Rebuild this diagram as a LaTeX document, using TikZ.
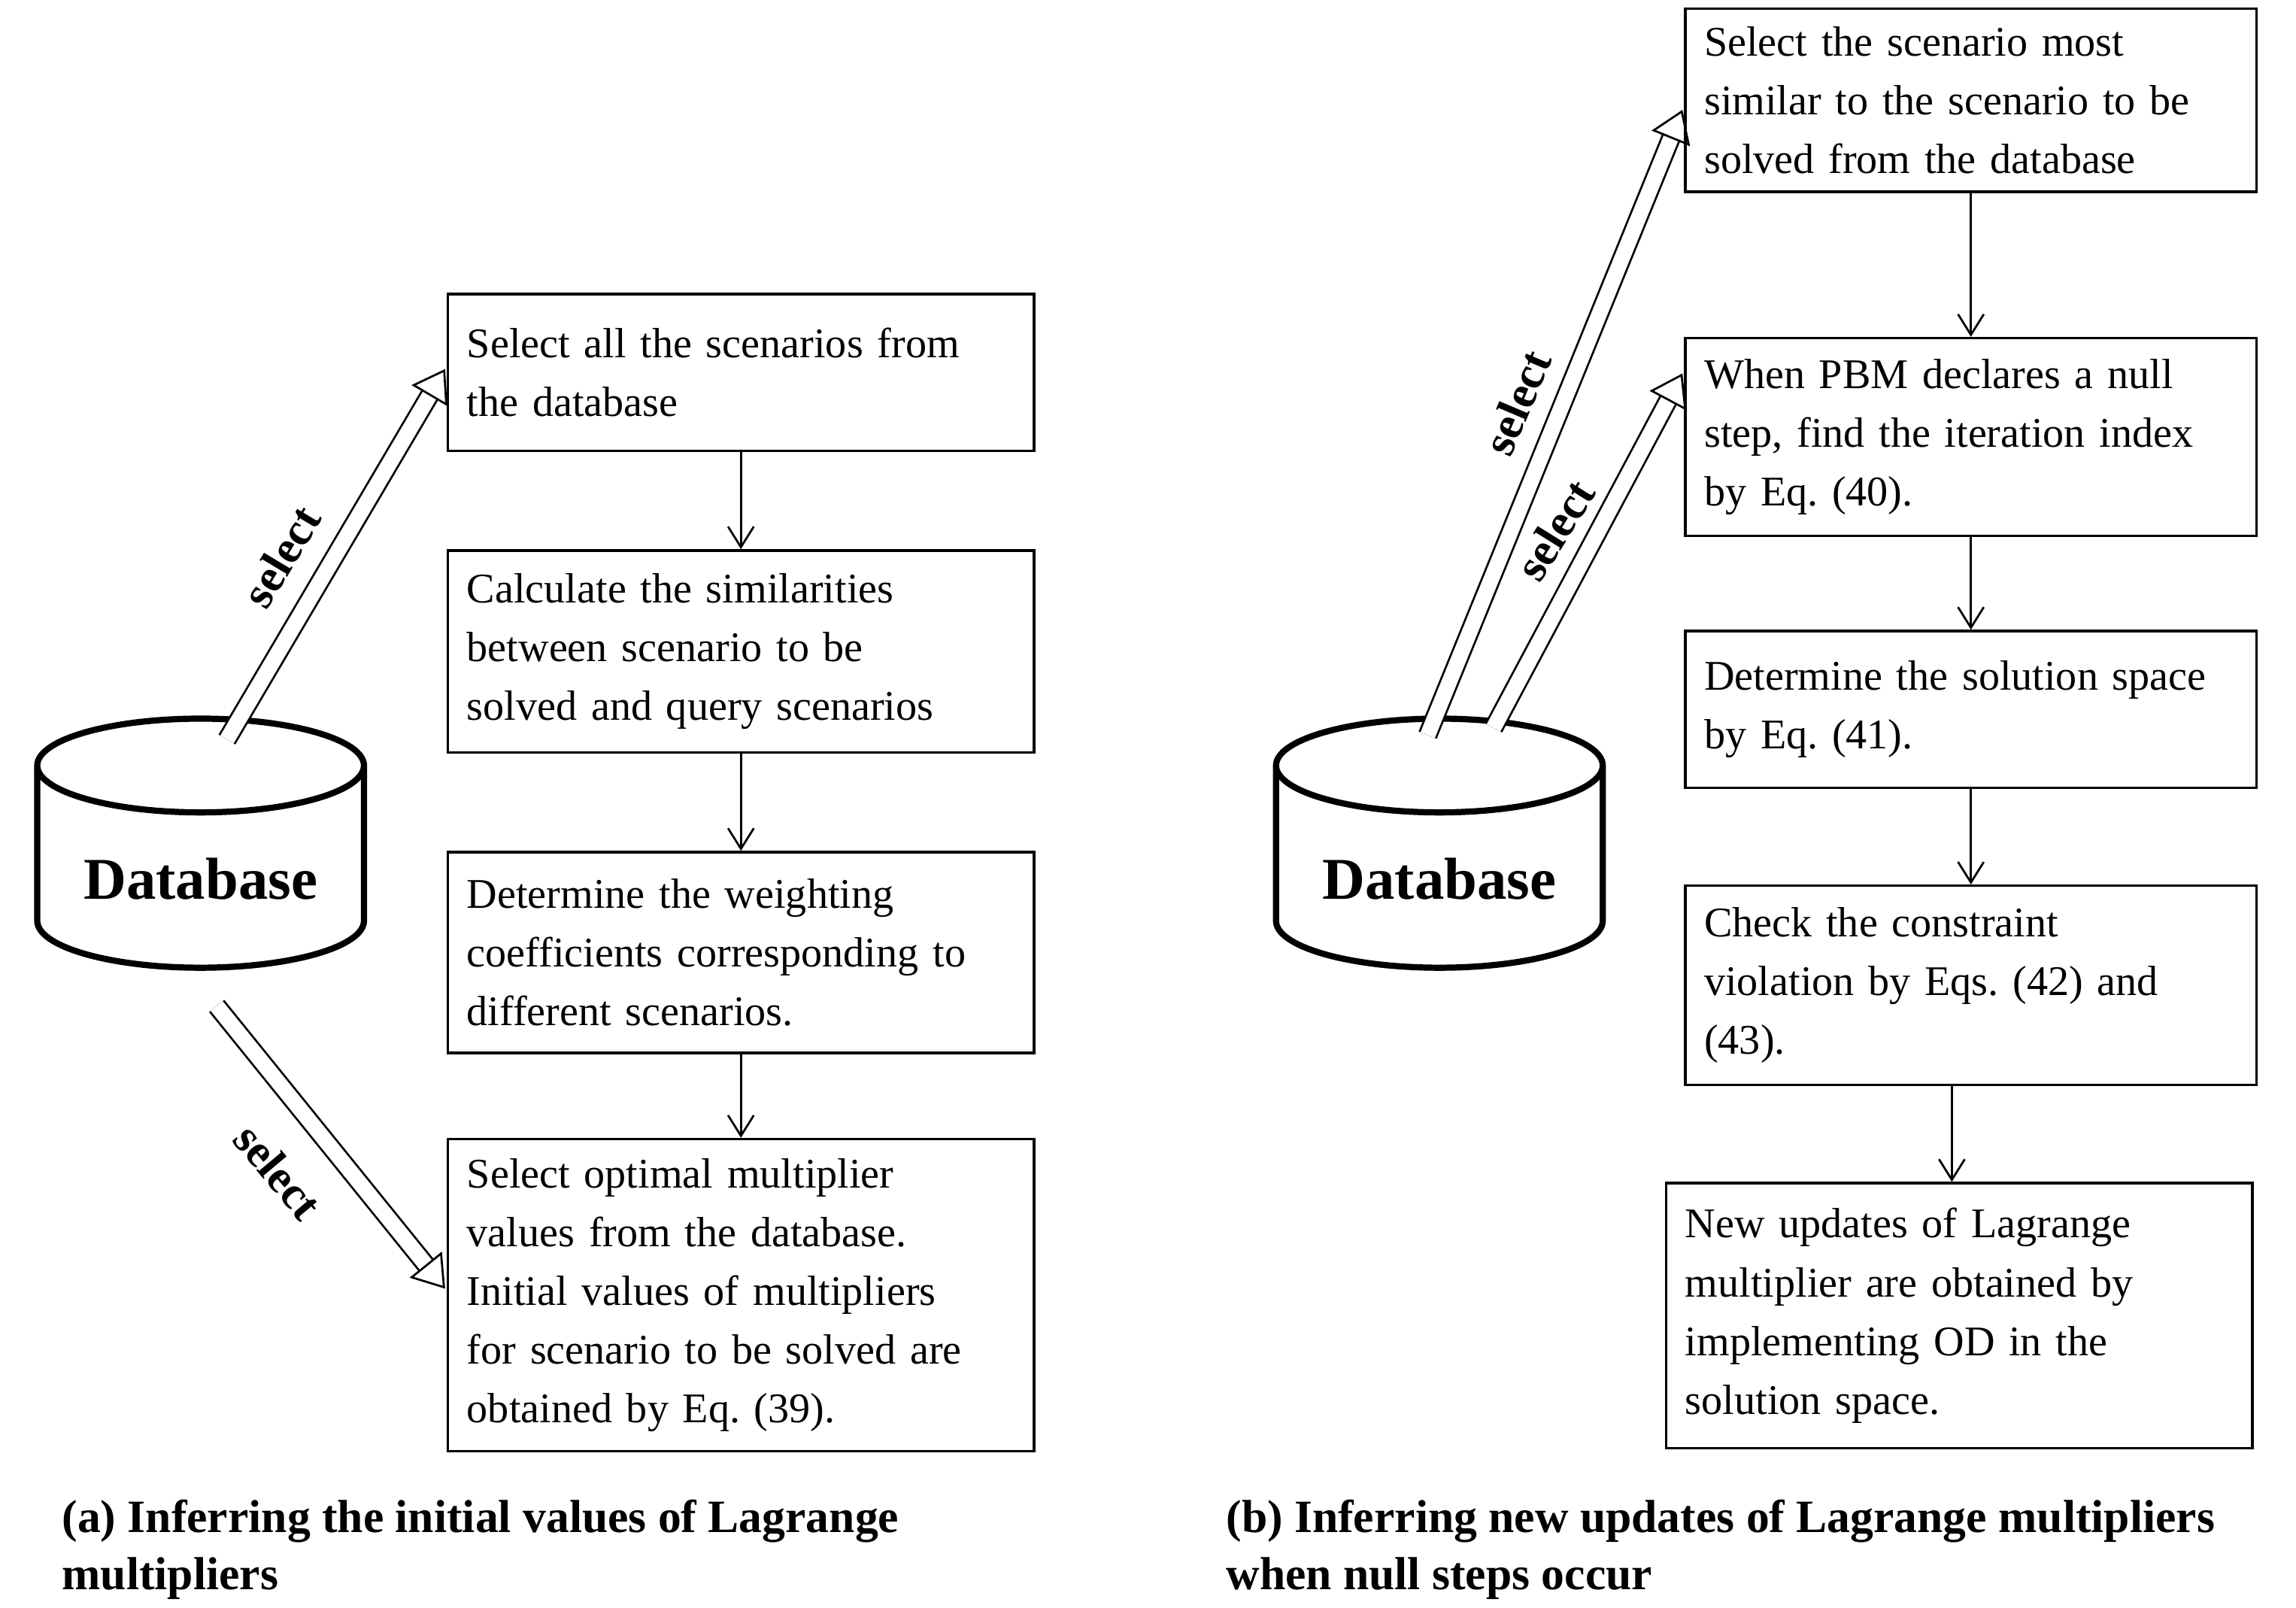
\documentclass[tikz,border=0pt]{standalone}
\usepackage{fontspec}
\setmainfont{Liberation Serif}
\frenchspacing
\usetikzlibrary{shapes.geometric,arrows.meta}
\tikzset{
  font={\fontsize{8.2pt}{11.4pt}\selectfont},
  stage/.style={draw, line width=0.5pt, align=left, inner xsep=0.13cm, inner ysep=0pt,
    text width=#1, anchor=north west},
  stage/.default=3.74cm,
  flow/.style={-{Straight Barb[length=4pt,width=5pt]}, line width=0.4pt},
  pick/.style={double=white, double distance=3pt, line width=0.4pt,
    -{Triangle[open,length=6pt,width=8pt]}},
  base/.style={draw, cylinder, shape border rotate=90, aspect=0.35, line width=1.2pt,
    minimum width=2.23cm, minimum height=1.7cm, font={\fontsize{11.5pt}{12pt}\selectfont\bfseries}},
  note/.style={font={\fontsize{9pt}{11pt}\selectfont\bfseries}}}
\begin{document}
\begin{tikzpicture}[x=0.01cm,y=-0.01cm]
\useasboundingbox (0,0) rectangle (1568,1098);
% left part
\node[stage, minimum height=1.07cm] (a1) at (305,200) {Select all the scenarios from\\the database};
\node[stage, minimum height=1.38cm] (a2) at (305,375) {Calculate the similarities\\between scenario to be\\solved and query scenarios};
\node[stage, minimum height=1.37cm] (a3) at (305,581) {Determine the weighting\\coefficients corresponding to\\different scenarios.};
\node[stage, minimum height=2.13cm] (a4) at (305,777) {Select optimal multiplier\\values from the database.\\Initial values of multipliers\\for scenario to be solved are\\obtained by Eq. (39).};
\draw[flow] (a1) -- (a2);
\draw[flow] (a2) -- (a3);
\draw[flow] (a3) -- (a4);
\node[base] (dba) at (137,600) {Database};
\coordinate (sa1) at (155,505);
\coordinate (sa2) at (148,687);
\draw[pick] (sa1) -- (304,252);
\draw[pick] (sa2) -- (304,880);
\node[note, rotate=59] (la1) at (192,380) {select};
\node[note, rotate=-50] (la2) at (190,800) {select};
\node[note, anchor=north west, align=left] (capa) at (30,1012) {(a) Inferring the initial values of Lagrange\\multipliers};
% right part
\node[stage=3.64cm, minimum height=1.25cm] (b1) at (1150,5) {Select the scenario most\\similar to the scenario to be\\solved from the database};
\node[stage=3.64cm, minimum height=1.35cm] (b2) at (1150,230) {When PBM declares a null\\step, find the iteration index\\by Eq. (40).};
\node[stage=3.64cm, minimum height=1.07cm] (b3) at (1150,430) {Determine the solution space\\by Eq. (41).};
\node[stage=3.64cm, minimum height=1.36cm] (b4) at (1150,604) {Check the constraint\\violation by Eqs. (42) and\\(43).};
\node[stage, minimum height=1.81cm] (b5) at (1137,807) {New updates of Lagrange\\multiplier are obtained by\\implementing OD in the\\solution space.};
\draw[flow] (b1) -- (b2);
\draw[flow] (b2) -- (b3);
\draw[flow] (b3) -- (b4);
\draw[flow] (b4.south) ++(-13,0) coordinate (b4s) -- (b4s |- b5.north);
\node[base] (dbb) at (983,600) {Database};
\coordinate (sb1) at (975,502);
\coordinate (sb2) at (1020,497);
\draw[pick] (sb1) -- (1149,75);
\draw[pick] (sb2) -- (1149,255);
\node[note, rotate=67] (lb1) at (1036,275) {select};
\node[note, rotate=58] (lb2) at (1062,362) {select};
\node[note, anchor=north west, align=left] (capb) at (825,1012) {(b) Inferring new updates of Lagrange multipliers\\when null steps occur};
\end{tikzpicture}
\end{document}
